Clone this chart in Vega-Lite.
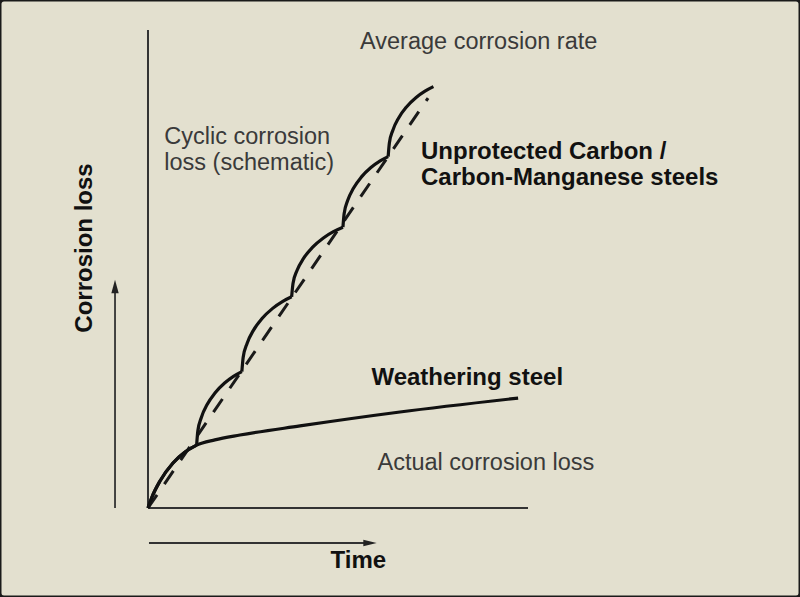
{
  "$schema": "https://vega.github.io/schema/vega-lite/v6.json",
  "width": 800,
  "height": 597,
  "autosize": {"type": "none"},
  "padding": 0,
  "background": "#e3e0cf",
  "config": {
    "view": {"fill": "#e3e0cf", "stroke": "#1a1a1a", "strokeWidth": 3, "cornerRadius": 4},
    "font": "Liberation Sans"
  },
  "datasets": {
    "weathering": [
      {"t": 0, "loss": 0}, {"t": 1.05, "loss": 2.29}, {"t": 3.16, "loss": 5.63}, {"t": 6.58, "loss": 9.38},
      {"t": 9.74, "loss": 11.67}, {"t": 12.8, "loss": 13.1}, {"t": 17.6, "loss": 14.2}, {"t": 24.2, "loss": 15.2},
      {"t": 40, "loss": 17.1}, {"t": 66.3, "loss": 20}, {"t": 97.4, "loss": 22.9}
    ],
    "cyclic": [
      {"cycle": 1, "t": 0, "loss": 0}, {"cycle": 1, "t": 1.05, "loss": 2.29}, {"cycle": 1, "t": 3.16, "loss": 5.63},
      {"cycle": 1, "t": 6.58, "loss": 9.38}, {"cycle": 1, "t": 9.74, "loss": 11.67}, {"cycle": 1, "t": 12.8, "loss": 13.1},
      {"cycle": 2, "t": 12.8, "loss": 13.1}, {"cycle": 2, "t": 13.11, "loss": 16.03}, {"cycle": 2, "t": 14.04, "loss": 18.87},
      {"cycle": 2, "t": 15.56, "loss": 21.54}, {"cycle": 2, "t": 17.62, "loss": 23.95}, {"cycle": 2, "t": 20.16, "loss": 26.03},
      {"cycle": 2, "t": 22.49, "loss": 27.42}, {"cycle": 2, "t": 24.7, "loss": 28.4},
      {"cycle": 3, "t": 24.7, "loss": 28.4}, {"cycle": 3, "t": 25.05, "loss": 31.39}, {"cycle": 3, "t": 26.07, "loss": 34.29},
      {"cycle": 3, "t": 27.74, "loss": 37.01}, {"cycle": 3, "t": 30.01, "loss": 39.47}, {"cycle": 3, "t": 32.8, "loss": 41.59},
      {"cycle": 3, "t": 35.37, "loss": 43.0}, {"cycle": 3, "t": 37.8, "loss": 44.0},
      {"cycle": 4, "t": 37.8, "loss": 44.0}, {"cycle": 4, "t": 38.16, "loss": 46.78}, {"cycle": 4, "t": 39.21, "loss": 49.47},
      {"cycle": 4, "t": 40.93, "loss": 52.0}, {"cycle": 4, "t": 43.27, "loss": 54.29}, {"cycle": 4, "t": 46.15, "loss": 56.26},
      {"cycle": 4, "t": 48.79, "loss": 57.57}, {"cycle": 4, "t": 51.3, "loss": 58.5},
      {"cycle": 5, "t": 51.3, "loss": 58.5}, {"cycle": 5, "t": 51.61, "loss": 61.32}, {"cycle": 5, "t": 52.54, "loss": 64.05},
      {"cycle": 5, "t": 54.06, "loss": 66.61}, {"cycle": 5, "t": 56.12, "loss": 68.93}, {"cycle": 5, "t": 58.66, "loss": 70.92},
      {"cycle": 5, "t": 60.99, "loss": 72.26}, {"cycle": 5, "t": 63.2, "loss": 73.2},
      {"cycle": 6, "t": 63.2, "loss": 73.2}, {"cycle": 6, "t": 63.51, "loss": 76.0}, {"cycle": 6, "t": 64.44, "loss": 78.71},
      {"cycle": 6, "t": 65.96, "loss": 81.26}, {"cycle": 6, "t": 68.02, "loss": 83.56}, {"cycle": 6, "t": 70.56, "loss": 85.54},
      {"cycle": 6, "t": 72.89, "loss": 86.86}, {"cycle": 6, "t": 75.1, "loss": 87.8}
    ],
    "average": [{"t": 0, "loss": 0}, {"t": 73.7, "loss": 85.4}],
    "axes": [
      {"t": 0, "loss": 0, "t2": 0, "loss2": 99.6},
      {"t": 0, "loss": 0, "t2": 100, "loss2": 0}
    ],
    "arrows": [
      {"t": -8.68, "loss": 0, "t2": -8.68, "loss2": 45.5},
      {"t": 0.26, "loss": -7.29, "t2": 58.5, "loss2": -7.29}
    ],
    "heads": [
      {"dir": "up", "t": -8.68, "loss": 46.15},
      {"dir": "right", "t": 58.42, "loss": -7.29}
    ],
    "lightText": [
      {"label": "Average corrosion rate", "t": 55.79, "loss": 95.54},
      {"label": "Cyclic corrosion", "t": 4.29, "loss": 75.73},
      {"label": "loss (schematic)", "t": 4.29, "loss": 70.4},
      {"label": "Actual corrosion loss", "t": 60.4, "loss": 7.85}
    ],
    "boldText": [
      {"label": "Unprotected Carbon /", "t": 71.84, "loss": 72.7},
      {"label": "Carbon-Manganese steels", "t": 71.84, "loss": 67.33},
      {"label": "Weathering steel", "t": 58.8, "loss": 25.6},
      {"label": "Time", "t": 48.05, "loss": -12.58}
    ],
    "yTitle": [{"label": "Corrosion loss", "t": -14.74, "loss": 54.17}]
  },
  "encoding": {
    "x": {"field": "t", "type": "quantitative", "axis": null, "scale": {"domain": [-38.947, 171.579], "nice": false, "zero": false}},
    "y": {"field": "loss", "type": "quantitative", "axis": null, "scale": {"domain": [-18.542, 105.833], "nice": false, "zero": false}}
  },
  "layer": [
    {
      "data": {"name": "axes"},
      "mark": {"type": "rule", "color": "#333333", "strokeWidth": 2},
      "encoding": {"x2": {"field": "t2"}, "y2": {"field": "loss2"}}
    },
    {
      "data": {"name": "average"},
      "mark": {"type": "line", "color": "#1a1a1a", "strokeWidth": 3, "strokeDash": [16, 13]},
      "encoding": {}
    },
    {
      "data": {"name": "weathering"},
      "mark": {"type": "line", "color": "#111111", "strokeWidth": 3.2, "interpolate": "monotone"},
      "encoding": {}
    },
    {
      "data": {"name": "cyclic"},
      "mark": {"type": "line", "color": "#111111", "strokeWidth": 3.2, "interpolate": "monotone"},
      "encoding": {"detail": {"field": "cycle", "type": "nominal"}}
    },
    {
      "data": {"name": "arrows"},
      "mark": {"type": "rule", "color": "#333333", "strokeWidth": 1.8},
      "encoding": {"x2": {"field": "t2"}, "y2": {"field": "loss2"}}
    },
    {
      "data": {"name": "heads"},
      "mark": {"type": "point", "filled": true, "color": "#222222", "opacity": 1, "size": 180},
      "encoding": {
        "shape": {"field": "dir", "type": "nominal", "legend": null,
          "scale": {"domain": ["up", "right"], "range": ["M0,-1L0.55,1L-0.55,1Z", "M1,0L-1,0.5L-1,-0.5Z"]}}
      }
    },
    {
      "data": {"name": "lightText"},
      "mark": {"type": "text", "align": "left", "baseline": "alphabetic", "fontSize": 23.5, "color": "#3a3a3a"},
      "encoding": {"text": {"field": "label"}}
    },
    {
      "data": {"name": "boldText"},
      "mark": {"type": "text", "align": "left", "baseline": "alphabetic", "fontSize": 24, "fontWeight": "bold", "color": "#111111"},
      "encoding": {"text": {"field": "label"}}
    },
    {
      "data": {"name": "yTitle"},
      "mark": {"type": "text", "align": "center", "baseline": "alphabetic", "angle": 270, "fontSize": 24, "fontWeight": "bold", "color": "#111111"},
      "encoding": {"text": {"field": "label"}}
    }
  ]
}
